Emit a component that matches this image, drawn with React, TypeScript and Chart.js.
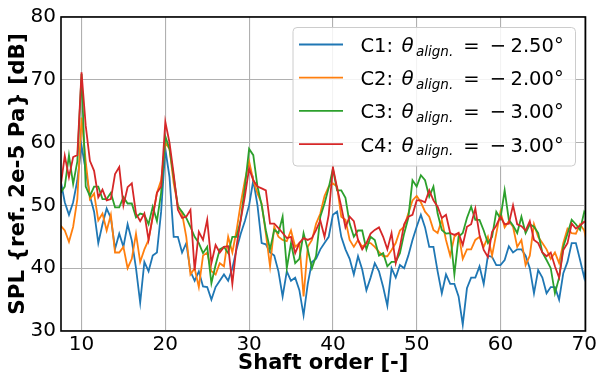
import React, { useEffect, useRef } from 'react';
import { Chart, registerables } from 'chart.js';

Chart.register(...registerables);

// Shaft orders sampled every 0.5 from 7.5 to 70.5
const orders: number[] = Array.from({ length: 127 }, (_, i) => 7.5 + i * 0.5);

const xTicks = [10, 20, 30, 40, 50, 60, 70];
const yTicks = [30, 40, 50, 60, 70, 80];

const seriesNames = ['C1', 'C2', 'C3', 'C4'];
const seriesAngles = ['2.50°', '2.00°', '3.00°', '3.00°'];
const seriesColors = ['#1f77b4', '#ff7f0e', '#2ca02c', '#d62728'];

const c1: number[] = [
  54, 50.5, 48.5, 50.5, 54,
  59.5, 55.6, 51.5, 49, 44, 47, 49.5, 48, 43.1, 45.5, 43.4, 47, 44.4, 40, 34.5, 41, 39.5, 42, 42.5, 49,
  59, 54.5, 45, 45, 42.5, 44, 39.5, 38, 39.5, 37.1, 37, 35, 37, 38, 39, 38, 40, 43, 45.5, 47.5,
  50, 54, 50, 44, 43.8, 42.5, 42, 39.5, 35.5, 39.5, 38, 38.5, 36.5, 32.5, 37.5, 41, 41.5, 43, 44, 45,
  48.5, 49, 45, 43, 41.5, 39, 41.9, 39.8, 36.5, 38.5, 40.8, 39.5, 37, 34, 40, 38.5, 40.5, 40, 42, 44.5,
  46.6, 48.5, 46.5, 43.4, 43.4, 39.5, 36, 39, 37.5, 37.5, 35.5, 31, 36.8, 38.5, 38.5, 40.3, 37.5, 42, 41.8, 40.5,
  40.5, 41.3, 43.5, 42.5, 43, 43, 42, 40, 36, 39.7, 38.5, 36, 37, 37, 35, 39.2, 41, 44, 44, 41.3, 38.5, 42,
];

const c2: number[] = [
  46.8, 46, 44.2, 46.6, 51,
  64, 57, 51, 51.9, 47.6, 48.7, 46, 48.5, 42.5, 42.5, 43.4, 40, 41.5, 45.5, 41, 43, 44.5, 48.2, 52, 54,
  60, 59, 53.5, 50, 48.7, 45, 39, 40, 37, 42, 42.5, 39.5, 39, 40.8, 40.3, 45, 42.5, 46, 50.3, 54,
  57, 54, 51.9, 50.3, 45.5, 40.3, 46.6, 45, 44.5, 44.3, 46, 43.4, 44, 35.5, 43.4, 44.5, 47.1, 48.7, 51.5, 53,
  53.5, 53, 48.2, 47.7, 44.5, 43.4, 44.5, 43.4, 44, 44, 43.4, 42.6, 41.9, 41.9, 42.9, 44, 46, 46.6, 48.7, 50.8,
  51.5, 50.5, 49, 48.2, 46.1, 45.6, 47.7, 44.5, 42, 45, 45.6, 41.5, 43, 43, 44.5, 45, 43.4, 45, 42, 45.5,
  49, 46.5, 47.5, 46.6, 43.4, 44.5, 40.5, 42, 47, 45, 44, 43, 41.5, 42.5, 40.8, 44, 46.3, 45.6, 45.5, 47, 46, 43,
];

const c3: number[] = [
  52, 53, 58, 53.4, 57,
  70.9, 53, 51.5, 53, 53, 51, 51, 52, 49.7, 49.7, 51.3, 50.3, 50.3, 48.1, 48.7, 48.5, 47, 49.8, 47.5, 52,
  61, 59, 54.5, 49.8, 49, 48, 46.6, 45, 44, 42.4, 43.4, 37.6, 40.5, 43, 43.4, 42.4, 45, 45, 47.7, 53,
  59, 58, 53, 50, 46, 43, 46.1, 45.6, 48.2, 40, 44, 40.8, 41.5, 45.6, 43, 40, 42, 48.2, 50.3, 52.8,
  55.8, 52.4, 52.4, 51.2, 47.1, 45, 46, 46, 43, 45, 44.5, 42, 42.4, 40.3, 41, 41, 42.4, 45.5, 48, 54,
  53, 54.8, 54, 51.4, 53, 48.7, 46.1, 45.5, 45.6, 39, 45, 45.6, 48, 49.8, 47.7, 47.7, 46, 44, 45, 49,
  47.9, 52.4, 47.7, 46.8, 45.6, 48.2, 45.6, 47, 46.6, 45.6, 42.5, 41.3, 40, 36, 38.5, 43.4, 45.5, 47.7, 47, 46.1, 49, 48,
];

const c4: number[] = [
  53, 57.9, 54.5, 57.7, 58,
  71.2, 62.7, 57.1, 55.5, 51.3, 52.5, 50.8, 51, 55, 56.1, 50, 52.9, 53.5, 48.7, 47.5, 48.7, 44.5, 48.2, 52, 53,
  63.3, 60, 55, 49.3, 48, 48.2, 49.3, 39.7, 45.8, 44.5, 47.7, 40.8, 43.7, 42.5, 43.4, 43.5, 37.5, 43.5, 47.7, 51.5,
  55.9, 54, 53, 52.7, 52.4, 47.1, 47.1, 46.4, 45.6, 44.8, 45, 42.4, 44, 44.8, 44.5, 44.8, 46.1, 47.6, 45, 48.5,
  56.1, 52.8, 49.8, 46.5, 48.2, 47.5, 44.5, 43, 44, 45.5, 46.1, 46.5, 45, 43, 45.6, 40.8, 43.4, 47, 48.2, 48.5,
  50.8, 50.8, 50.5, 52.4, 50.8, 49.8, 48, 48.5, 45.6, 45.3, 45.6, 43.7, 46.6, 47, 49.5, 45.3, 42.9, 41.8, 45.8, 46.8,
  48.2, 47, 47.1, 50, 47, 46.7, 46, 47.5, 44.5, 44, 42.5, 41.9, 42.5, 40.3, 38.5, 42.9, 44, 47.1, 46.3, 46.8, 47.4, 47,
];

const allSeries = [c1, c2, c3, c4];

const FONT = "'DejaVu Sans', 'Liberation Sans', sans-serif";

const framePlugin = {
  id: 'frame',
  afterDatasetsDraw(chart: any) {
    const { ctx, chartArea } = chart;
    ctx.save();
    ctx.strokeStyle = '#000';
    ctx.lineWidth = 1.6;
    ctx.strokeRect(chartArea.left, chartArea.top, chartArea.right - chartArea.left, chartArea.bottom - chartArea.top);
    ctx.restore();
  },
};

const legendPlugin = {
  id: 'mplLegend',
  afterDraw(chart: any) {
    const { ctx, chartArea } = chart;
    ctx.save();
    const bx = chartArea.right - 292.5;
    const by = chartArea.top + 10.5;
    const bw = 282.5;
    const bh = 138.5;
    ctx.beginPath();
    (ctx as any).roundRect(bx, by, bw, bh, 4);
    ctx.fillStyle = 'rgba(255,255,255,0.85)';
    ctx.fill();
    ctx.strokeStyle = '#cccccc';
    ctx.lineWidth = 1;
    ctx.stroke();

    for (let i = 0; i < seriesNames.length; i++) {
      const cy = by + 17 + i * 33.2;
      ctx.strokeStyle = seriesColors[i];
      ctx.lineWidth = 1.8;
      ctx.beginPath();
      ctx.moveTo(bx + 6, cy);
      ctx.lineTo(bx + 50, cy);
      ctx.stroke();

      const tx = bx + 67.5;
      const base = cy + 7.5;
      ctx.fillStyle = '#000';
      ctx.textBaseline = 'alphabetic';
      ctx.textAlign = 'left';
      ctx.font = `19.5px ${FONT}`;
      ctx.fillText(seriesNames[i] + ':', tx, base);
      ctx.font = `italic 20px ${FONT}`;
      ctx.fillText('θ', tx + 41, base);
      ctx.font = `italic 13.5px ${FONT}`;
      ctx.fillText('align.', tx + 55.5, base + 3.5);
      ctx.font = `19.5px ${FONT}`;
      ctx.fillText('=', tx + 102.7, base);
      ctx.fillText('−', tx + 129.3, base);
      ctx.fillText(seriesAngles[i], tx + 150, base);
    }
    ctx.restore();
  },
};

export default function App() {
  const canvasRef = useRef<HTMLCanvasElement | null>(null);

  useEffect(() => {
    document.body.style.margin = '0';
    const canvas = canvasRef.current;
    if (!canvas) return;

    const datasets = allSeries.map((arr, i) => ({
      label: seriesNames[i],
      data: orders.map((x, j) => ({ x, y: arr[j] })),
      borderColor: seriesColors[i],
      backgroundColor: seriesColors[i],
      borderWidth: 1.8,
      pointRadius: 0,
      tension: 0,
      fill: false,
      order: seriesNames.length - 1 - i,
    }));

    const chart = new Chart(canvas, {
      type: 'line',
      data: { datasets },
      plugins: [framePlugin, legendPlugin],
      options: {
        animation: false,
        responsive: false,
        devicePixelRatio: 1,
        layout: { padding: { left: 0, top: 16, right: 10, bottom: 0 } },
        plugins: {
          legend: { display: false },
          tooltip: { enabled: false },
        },
        scales: {
          x: {
            type: 'linear',
            min: 7.55,
            max: 70.15,
            afterBuildTicks: (scale: any) => {
              scale.ticks = xTicks.map((v) => ({ value: v }));
            },
            afterFit: (scale: any) => {
              scale.height = 46;
            },
            grid: { color: '#b0b0b0', lineWidth: 1.1, drawTicks: false },
            border: { display: false },
            ticks: {
              color: '#000',
              font: { family: FONT, size: 20 },
              padding: 2,
              maxRotation: 0,
              autoSkip: false,
            },
            title: {
              display: true,
              text: 'Shaft order [-]',
              color: '#000',
              font: { family: FONT, size: 21, weight: 'bold' },
              padding: { top: 0, bottom: 1 },
            },
          },
          y: {
            type: 'linear',
            min: 30,
            max: 80,
            afterBuildTicks: (scale: any) => {
              scale.ticks = yTicks.map((v) => ({ value: v }));
            },
            afterFit: (scale: any) => {
              scale.width = 61;
            },
            grid: { color: '#b0b0b0', lineWidth: 1.1, drawTicks: false },
            border: { display: false },
            ticks: {
              color: '#000',
              font: { family: FONT, size: 20 },
              padding: 5,
              autoSkip: false,
            },
            title: {
              display: true,
              text: 'SPL {ref. 2e-5 Pa} [dB]',
              color: '#000',
              font: { family: FONT, size: 21.5, weight: 'bold' },
              padding: { top: 6, bottom: 0 },
            },
          },
        },
      } as any,
    });

    return () => {
      chart.destroy();
    };
  }, []);

  return (
    <div style={{ width: 599, height: 377, position: 'relative' }}>
      <canvas ref={canvasRef} width={599} height={377} style={{ display: 'block' }} />
    </div>
  );
}
